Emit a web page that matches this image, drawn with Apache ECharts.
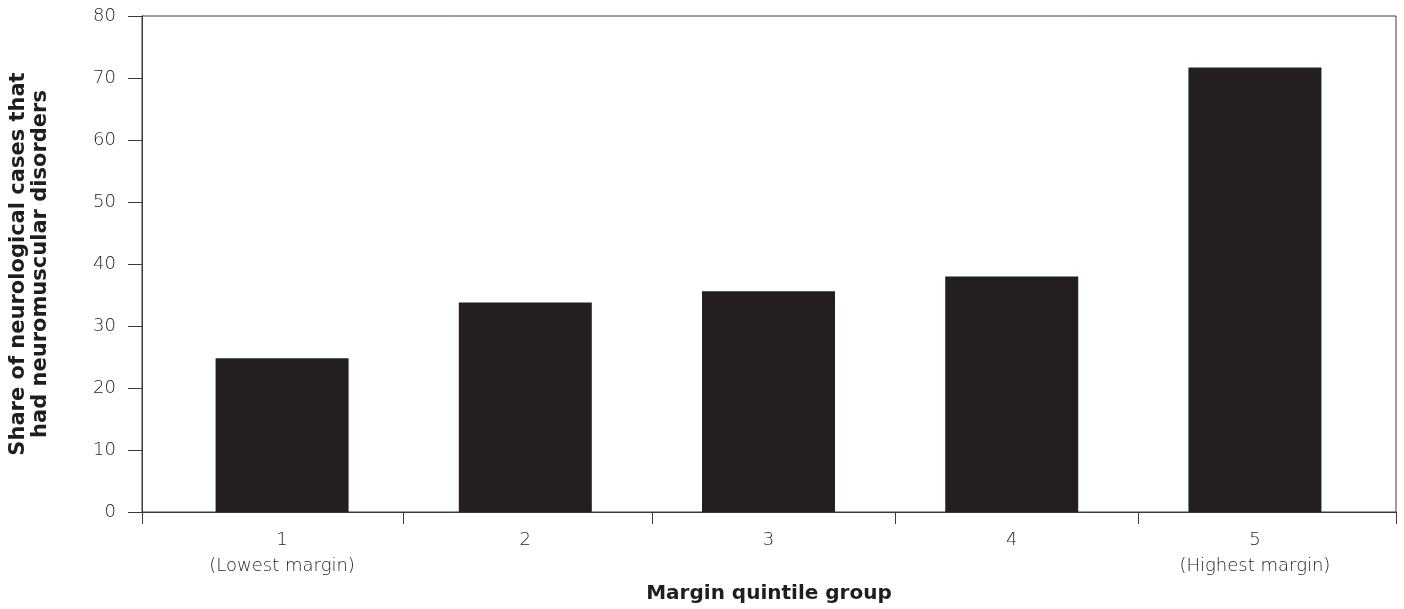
<!DOCTYPE html>
<html>
<head>
<meta charset="utf-8">
<script src="https://cdn.jsdelivr.net/npm/echarts@6/dist/echarts.min.js"></script>
<style>
html,body{margin:0;padding:0;background:#fff;}
#chart{width:1404px;height:609px;}
</style>
</head>
<body>
<div id="chart"></div>
<script>
// Data
const categoryPositions = [1, 2, 3, 4, 5];
const categoryLabels = ['1\n(Lowest margin)', '2', '3', '4', '5\n(Highest margin)'];
const shareValues = [24.8, 33.8, 35.6, 38.0, 71.7];
const yTicks = [0, 10, 20, 30, 40, 50, 60, 70, 80];
const xTickPositions = [0.424, 1.5, 2.52, 3.52, 4.52, 5.58];
const xAxisTitle = 'Margin quintile group';
const yAxisTitle = 'Share of neurological cases that\nhad neuromuscular disorders';

const chart = echarts.init(document.getElementById('chart'));
const lineColor = '#3a3a3a';
const textColor = '#1e1e1e';
chart.setOption({
  animation: false,
  backgroundColor: '#fff',
  grid: {
    left: 140, right: 8, top: 16, bottom: 97,
    show: true, borderColor: lineColor, borderWidth: 1
  },
  xAxis: {
    type: 'value',
    min: 0.424, max: 5.58,
    splitLine: { show: false },
    axisLine: { show: true, lineStyle: { color: lineColor, width: 1 } },
    axisTick: { show: true, length: 12, customValues: xTickPositions, lineStyle: { color: lineColor } },
    axisLabel: {
      customValues: categoryPositions,
      formatter: function (v) {
        const i = categoryPositions.indexOf(Math.round(v));
        return i >= 0 ? categoryLabels[i] : '';
      },
      color: textColor, fontFamily: 'DejaVu Sans', fontWeight: 200, fontSize: 18, lineHeight: 26, margin: 15
    },
    name: xAxisTitle,
    nameLocation: 'middle',
    nameGap: 72,
    nameTextStyle: { fontFamily: 'DejaVu Sans', fontWeight: 'bold', fontSize: 20, color: '#1e1e1e', lineHeight: 20 }
  },
  yAxis: {
    type: 'value',
    min: 0, max: 80, interval: 10,
    splitLine: { show: false },
    axisLine: { show: true, lineStyle: { color: lineColor, width: 1 } },
    axisTick: { show: true, length: 14, lineStyle: { color: lineColor } },
    axisLabel: {
      color: textColor, fontFamily: 'DejaVu Sans', fontWeight: 200, fontSize: 18, margin: 26,
      formatter: function (v) { return yTicks.indexOf(v) >= 0 ? String(v) : ''; }
    },
    name: yAxisTitle,
    nameLocation: 'middle',
    nameGap: 90,
    nameRotate: 90,
    nameTextStyle: { fontFamily: 'DejaVu Sans', fontWeight: 'bold', fontSize: 21, color: '#1e1e1e', lineHeight: 22 }
  },
  series: [{
    type: 'bar',
    data: categoryPositions.map((x, i) => [x, shareValues[i]]),
    barWidth: 133,
    itemStyle: { color: '#231f20' }
  }]
});
</script>
</body>
</html>
